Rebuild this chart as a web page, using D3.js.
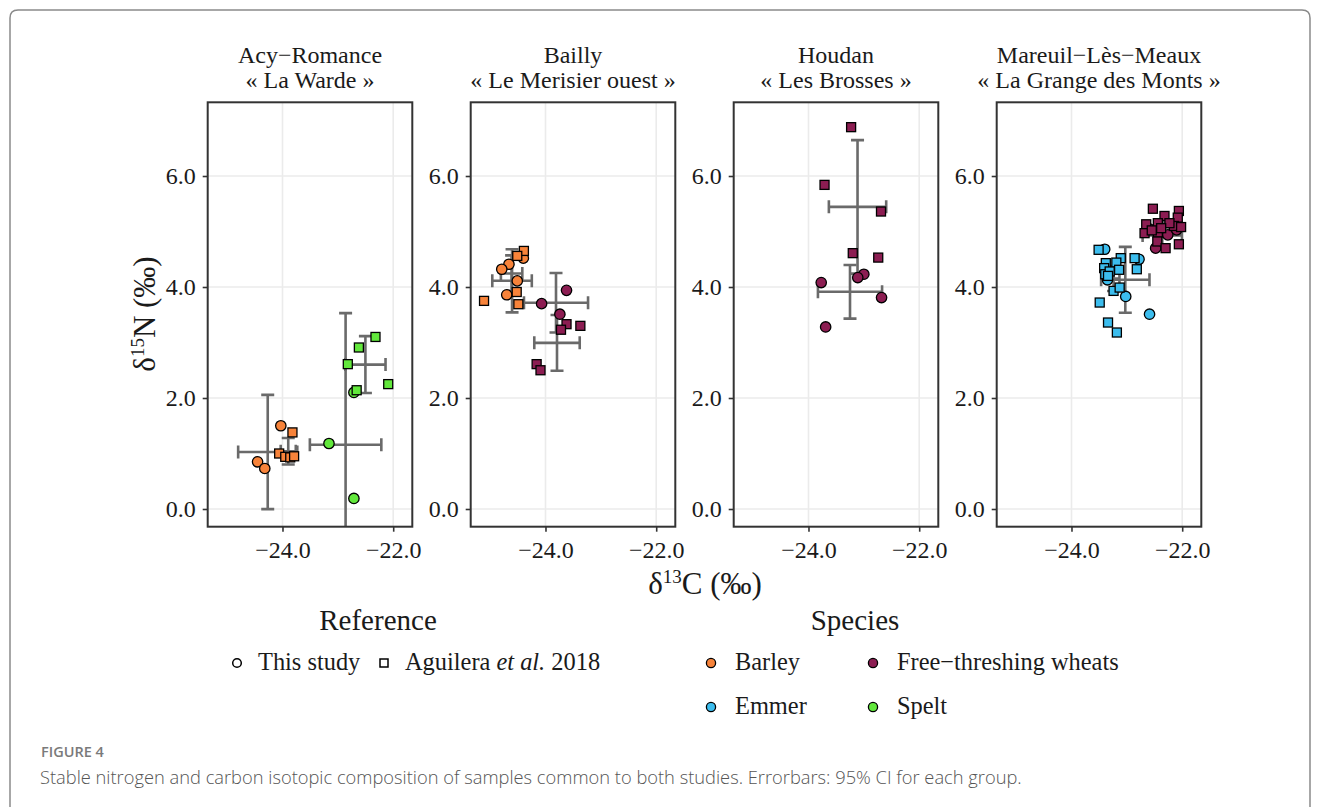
<!DOCTYPE html>
<html><head><meta charset="utf-8">
<script src="https://cdn.jsdelivr.net/npm/d3@7"></script>
<style>
html,body{margin:0;padding:0;background:#fff;}
svg{display:block;}
</style></head>
<body>
<svg id="chart" width="1320" height="807"></svg>
<script>
// ---------- data (δ13C, δ15N) ----------
const siteLine1 = ["Acy\u2212Romance", "Bailly", "Houdan", "Mareuil\u2212Lès\u2212Meaux"];
const siteLine2 = ["« La Warde »", "« Le Merisier ouest »", "« Les Brosses »", "« La Grange des Monts »"];
const speciesNames = ["Barley", "Emmer", "Free\u2212threshing wheats", "Spelt"];
const referenceNames = ["This study", "Aguilera et al. 2018"];
const xTicks = [-24, -22];
const yTicks = [0, 2, 4, 6];

const acy_barley_this = [[-24.03,1.50],[-24.45,0.85],[-24.32,0.73]];
const acy_barley_agu  = [[-23.82,1.38],[-24.06,1.00],[-23.95,0.94],[-23.86,0.93],[-23.79,0.95]];
const acy_spelt_this  = [[-22.71,2.10],[-23.16,1.18],[-22.71,0.19]];
const acy_spelt_agu   = [[-22.32,3.10],[-22.62,2.91],[-22.82,2.61],[-22.09,2.25],[-22.66,2.14]];

const bailly_barley_this = [[-24.40,4.52],[-24.66,4.41],[-24.79,4.32],[-24.51,4.11],[-24.70,3.86]];
const bailly_barley_agu  = [[-24.39,4.65],[-24.51,4.56],[-24.52,3.91],[-25.11,3.75],[-24.49,3.69]];
const bailly_ftw_this    = [[-23.62,3.94],[-24.07,3.70],[-23.74,3.51]];
const bailly_ftw_agu     = [[-23.62,3.33],[-23.37,3.30],[-23.72,3.23],[-24.16,2.61],[-24.09,2.50]];

const houdan_ftw_this = [[-23.00,4.23],[-23.11,4.17],[-23.77,4.08],[-22.68,3.81],[-23.69,3.28]];
const houdan_ftw_agu  = [[-23.23,6.88],[-23.71,5.84],[-22.69,5.36],[-23.20,4.61],[-22.74,4.53]];

const mareuil_emmer_this = [[-23.40,4.68],[-22.78,4.50],[-23.35,4.13],[-23.02,3.83],[-22.59,3.51]];
const mareuil_emmer_agu  = [[-23.51,4.67],[-23.11,4.52],[-22.86,4.52],[-23.38,4.43],[-23.19,4.44],[-22.82,4.32],
  [-23.41,4.34],[-23.14,4.31],[-23.39,4.23],[-23.31,4.28],[-23.34,4.20],[-23.24,3.93],[-23.13,3.99],
  [-23.49,3.72],[-23.34,3.36],[-23.18,3.18]];
const mareuil_ftw_this = [[-22.48,4.70],[-22.26,4.94],[-22.10,5.03],[-22.60,5.05]];
const mareuil_ftw_agu  = [[-22.53,5.41],[-22.32,5.28],[-22.06,5.37],[-22.08,5.25],[-22.65,5.13],[-22.68,4.97],
  [-22.44,5.15],[-22.44,4.98],[-22.15,5.10],[-22.02,5.08],[-22.45,4.82],[-22.30,4.70],[-22.06,4.77],
  [-22.23,5.15],[-22.38,5.06],[-22.55,5.02]];

// groups: [site index, species index, reference index, data]
const groups = [
  [0,0,0,acy_barley_this],[0,0,1,acy_barley_agu],[0,3,0,acy_spelt_this],[0,3,1,acy_spelt_agu],
  [1,0,0,bailly_barley_this],[1,0,1,bailly_barley_agu],[1,2,0,bailly_ftw_this],[1,2,1,bailly_ftw_agu],
  [2,2,0,houdan_ftw_this],[2,2,1,houdan_ftw_agu],
  [3,1,0,mareuil_emmer_this],[3,1,1,mareuil_emmer_agu],[3,2,0,mareuil_ftw_this],[3,2,1,mareuil_ftw_agu]
];

// ---------- styles ----------
const speciesColors = ["#F7833A", "#3CBDEE", "#8C1D52", "#62E83C"];
const serif = "'Liberation Serif','Times New Roman',serif";
const txt = "#1a1a1a";

// t quantiles (0.975) by df
const tq = [NaN,12.706,4.303,3.182,2.776,2.571,2.447,2.365,2.306,2.262,2.228,2.201,2.179,2.160,2.145,2.131,2.120,2.110,2.101,2.093,2.086];
function ci(vals){
  const n = vals.length, m = d3.mean(vals), s = d3.deviation(vals);
  const h = tq[Math.min(n-1,20)] * s / Math.sqrt(n);
  return [m, m-h, m+h];
}

const svg = d3.select("#chart");

// outer frame
svg.append("path")
  .attr("d", "M10,807 L10,18 Q10,10 18,10 L1302,10 Q1310,10 1310,18 L1310,807")
  .attr("fill","none").attr("stroke","#8a8a8a").attr("stroke-width",1.5);

const panelLeft0 = 207.7, panelStep = 263, panelW = 204.6;
const panelTop = 102.3, panelBottom = 526.7;
const xDomain = [-25.351, -21.655];
const yDomain = [-0.319, 7.328];

const y = d3.scaleLinear().domain(yDomain).range([panelBottom, panelTop]);

const defs = svg.append("defs");

siteLine1.forEach((name, si) => {
  const left = panelLeft0 + si*panelStep;
  const x = d3.scaleLinear().domain(xDomain).range([left, left+panelW]);
  const g = svg.append("g");

  defs.append("clipPath").attr("id","clip"+si).append("rect")
    .attr("x",left).attr("y",panelTop).attr("width",panelW).attr("height",panelBottom-panelTop);

  // grid
  g.selectAll("line.gx").data(xTicks).join("line")
    .attr("x1",d=>x(d)).attr("x2",d=>x(d)).attr("y1",panelTop).attr("y2",panelBottom)
    .attr("stroke","#ebebeb").attr("stroke-width",1.6);
  g.selectAll("line.gy").data(yTicks).join("line").attr("class","gy")
    .attr("y1",d=>y(d)).attr("y2",d=>y(d)).attr("x1",left).attr("x2",left+panelW)
    .attr("stroke","#ebebeb").attr("stroke-width",1.6);

  // axes
  const xAxis = d3.axisBottom(x).tickValues(xTicks).tickFormat(d3.format(".1f")).tickSize(5).tickPadding(9);
  const gx = svg.append("g").attr("transform",`translate(0,${panelBottom})`).call(xAxis);
  const yAxis = d3.axisLeft(y).tickValues(yTicks).tickFormat(d3.format(".1f")).tickSize(5).tickPadding(7);
  const gy = svg.append("g").attr("transform",`translate(${left},0)`).call(yAxis);
  [gx,gy].forEach(a=>{
    a.select(".domain").remove();
    a.selectAll(".tick line").attr("stroke","#333").attr("stroke-width",1.6);
    a.selectAll(".tick text").attr("fill",txt).style("font-family",serif).style("font-size","24px");
  });

  // titles
  svg.append("text").attr("x",left+panelW/2).attr("y",63).attr("text-anchor","middle")
    .style("font-family",serif).style("font-size","24px").attr("fill",txt).text(siteLine1[si]);
  svg.append("text").attr("x",left+panelW/2).attr("y",88).attr("text-anchor","middle")
    .style("font-family",serif).style("font-size","24px").attr("fill",txt).text(siteLine2[si]);

  const plot = g.append("g").attr("clip-path",`url(#clip${si})`);
  const gs = groups.filter(gr=>gr[0]===si);
  const cap = 6.5, ebCol = "#6a6a6a", ebW = 2.6;

  // error bars
  gs.forEach(gr=>{
    const d = gr[3];
    const cx = ci(d.map(p=>p[0])), cy = ci(d.map(p=>p[1]));
    const eb = plot.append("g").attr("stroke",ebCol).attr("stroke-width",ebW).attr("fill","none");
    eb.append("line").attr("x1",x(cx[0])).attr("x2",x(cx[0])).attr("y1",y(cy[1])).attr("y2",y(cy[2]));
    eb.append("line").attr("x1",x(cx[0])-cap).attr("x2",x(cx[0])+cap).attr("y1",y(cy[1])).attr("y2",y(cy[1]));
    eb.append("line").attr("x1",x(cx[0])-cap).attr("x2",x(cx[0])+cap).attr("y1",y(cy[2])).attr("y2",y(cy[2]));
    eb.append("line").attr("y1",y(cy[0])).attr("y2",y(cy[0])).attr("x1",x(cx[1])).attr("x2",x(cx[2]));
    eb.append("line").attr("y1",y(cy[0])-cap).attr("y2",y(cy[0])+cap).attr("x1",x(cx[1])).attr("x2",x(cx[1]));
    eb.append("line").attr("y1",y(cy[0])-cap).attr("y2",y(cy[0])+cap).attr("x1",x(cx[2])).attr("x2",x(cx[2]));
  });

  // points: circles first, then squares
  gs.filter(gr=>gr[2]===0).forEach(gr=>{
    plot.append("g").selectAll("circle").data(gr[3]).join("circle")
      .attr("cx",p=>x(p[0])).attr("cy",p=>y(p[1])).attr("r",5.2)
      .attr("fill",speciesColors[gr[1]]).attr("stroke","#000").attr("stroke-width",1.3);
  });
  gs.filter(gr=>gr[2]===1).forEach(gr=>{
    const s = 9;
    plot.append("g").selectAll("rect").data(gr[3]).join("rect")
      .attr("x",p=>x(p[0])-s/2).attr("y",p=>y(p[1])-s/2).attr("width",s).attr("height",s)
      .attr("fill",speciesColors[gr[1]]).attr("stroke","#000").attr("stroke-width",1.3);
  });

  // border
  svg.append("rect").attr("x",left).attr("y",panelTop).attr("width",panelW).attr("height",panelBottom-panelTop)
    .attr("fill","none").attr("stroke","#333").attr("stroke-width",2);
});

// axis titles
const xt = svg.append("text").attr("x",705).attr("y",594).attr("text-anchor","middle")
  .style("font-family",serif).style("font-size","31px").attr("fill",txt);
xt.append("tspan").text("\u03b4");
xt.append("tspan").attr("dy",-11).style("font-size","19px").text("13");
xt.append("tspan").attr("dy",11).text("C (\u2030)");

const yt = svg.append("text").attr("transform","translate(155,314) rotate(-90)").attr("text-anchor","middle")
  .style("font-family",serif).style("font-size","31px").attr("fill",txt);
yt.append("tspan").text("\u03b4");
yt.append("tspan").attr("dy",-11).style("font-size","19px").text("15");
yt.append("tspan").attr("dy",11).text("N (\u2030)");

// legend: Reference
svg.append("text").attr("x",378).attr("y",630).attr("text-anchor","middle")
  .style("font-family",serif).style("font-size","29px").attr("fill",txt).text("Reference");
svg.append("circle").attr("cx",237).attr("cy",663).attr("r",4.3).attr("fill","#fff").attr("stroke","#000").attr("stroke-width",1.5);
svg.append("text").attr("x",258).attr("y",670).style("font-family",serif).style("font-size","24.4px").attr("fill",txt).text(referenceNames[0]);
svg.append("rect").attr("x",380).attr("y",659).attr("width",8).attr("height",8).attr("fill","#fff").attr("stroke","#000").attr("stroke-width",1.5);
const ag = svg.append("text").attr("x",405).attr("y",670).style("font-family",serif).style("font-size","24.4px").attr("fill",txt);
ag.append("tspan").text("Aguilera ");
ag.append("tspan").style("font-style","italic").text("et al.");
ag.append("tspan").text(" 2018");

// legend: Species
svg.append("text").attr("x",855).attr("y",630).attr("text-anchor","middle")
  .style("font-family",serif).style("font-size","29px").attr("fill",txt).text("Species");
const spPos = [[711,663],[711,707],[873,663],[873,707]];
speciesNames.forEach((s,i)=>{
  svg.append("circle").attr("cx",spPos[i][0]).attr("cy",spPos[i][1]).attr("r",4.6)
    .attr("fill",speciesColors[i]).attr("stroke","#000").attr("stroke-width",1.3);
  svg.append("text").attr("x",spPos[i][0]+24).attr("y",spPos[i][1]+7)
    .style("font-family",serif).style("font-size","24.4px").attr("fill",txt).text(s);
});

// caption
svg.append("text").attr("x",41).attr("y",757).style("font-family","'Open Sans',sans-serif")
  .style("font-size","14.5px").style("font-weight","600").attr("fill","#7a7a7a").text("FIGURE 4");
svg.append("text").attr("x",40).attr("y",784).style("font-family","'Open Sans',sans-serif")
  .style("font-size","18.3px").style("font-weight","300").attr("fill","#555").text("Stable nitrogen and carbon isotopic composition of samples common to both studies. Errorbars: 95% CI for each group.");
</script>
</body></html>
